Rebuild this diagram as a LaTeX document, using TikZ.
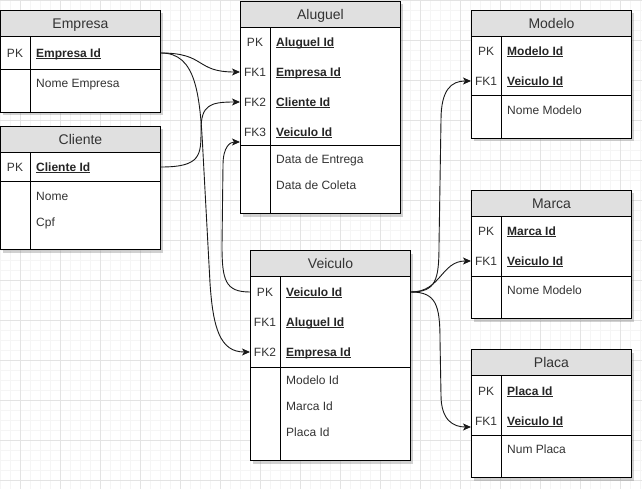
\documentclass[tikz,border=0pt]{standalone}
\usepackage{fontspec}
\setmainfont{Liberation Sans}
\usepackage{xcolor}
\usepackage{tikz}
\usetikzlibrary{arrows.meta, positioning, calc, shadows}

\definecolor{headgray}{HTML}{E0E0E0}
\definecolor{textgray}{HTML}{333333}
\definecolor{gridmajor}{HTML}{E3E3E3}
\definecolor{gridminor}{HTML}{F5F5F5}

\newcommand{\keyul}[1]{\setbox0\hbox{#1}\rlap{\rule[-1.6pt]{\wd0}{0.8pt}}\box0}

\begin{document}
\begin{tikzpicture}[
	  x=1pt, y=-1pt,
	  font=\fontsize{12}{14}\selectfont,
	  tablebox/.style={
	    draw,
	    fill=white,
	    line width=1pt,
	    anchor=north west,
	    minimum width=160pt,
	    inner sep=0pt,
	    drop shadow={shadow xshift=2pt, shadow yshift=-3pt, opacity=0.3, fill=black!60}
	  },
	  headbox/.style={draw, fill=headgray, line width=1pt, anchor=north west,
	    minimum width=160pt, minimum height=26pt, inner sep=0pt,
	    text height=10pt, text depth=0pt, text=textgray, font=\fontsize{14}{16}\selectfont},
	  keytag/.style={inner sep=0pt, text height=8.6pt, text depth=0pt, text=textgray},
	  keyfield/.style={anchor=west, inner sep=0pt, text height=8.6pt, text depth=0pt,
	    text=black!85, font=\fontsize{12}{14}\selectfont\bfseries},
	  attrfield/.style={anchor=west, inner sep=0pt, text height=8.6pt, text depth=0pt, text=textgray},
	  divider/.style={line width=1pt},
	  minorgrid/.style={gridminor, line width=0.6pt},
	  majorgrid/.style={gridmajor, line width=0.8pt},
	  arrow/.style={-{Stealth[length=8pt,width=7pt,inset=2pt]}, line width=0.9pt, black!90}
	]
	
	\useasboundingbox (0,0) rectangle (642,489);
	
	% background grid
	\foreach \gx in {0,10,...,640} \draw[minorgrid] (\gx,0) -- (\gx,489);
	\foreach \gy in {0,10,...,480} \draw[minorgrid] (0,\gy) -- (642,\gy);
	\foreach \gx in {20,60,...,620} \draw[majorgrid] (\gx,0) -- (\gx,489);
	\foreach \gy in {0,40,...,480} \draw[majorgrid] (0,\gy) -- (642,\gy);
	
	% Empresa
	\node[tablebox, minimum height=102pt] (emp) at (0,10) {};
	\node[headbox] (emp-h) at (emp.north west) {Empresa};
	\draw[divider] ([xshift=30pt]emp-h.south west) -- ([xshift=30pt]emp.south west);
	\draw[divider] ($(emp.north west)+(0,60)$) -- ++(160,0);
	\node[keytag] (emp-pk-tag) at ($(emp.north west)+(15,43)$) {PK};
	\node[keyfield] (emp-pk) at ($(emp.north west)+(36,43)$) {\keyul{Empresa Id}};
	\node[attrfield] (emp-nome) at ($(emp.north west)+(36,73)$) {Nome Empresa};
	
	% Cliente
	\node[tablebox, minimum height=123pt] (cli) at (0,126) {};
	\node[headbox] (cli-h) at (cli.north west) {Cliente};
	\draw[divider] ([xshift=30pt]cli-h.south west) -- ([xshift=30pt]cli.south west);
	\draw[divider] ($(cli.north west)+(0,56)$) -- ++(160,0);
	\node[keytag] (cli-pk-tag) at ($(cli.north west)+(15,41)$) {PK};
	\node[keyfield] (cli-pk) at ($(cli.north west)+(36,41)$) {\keyul{Cliente Id}};
	\node[attrfield] (cli-nome) at ($(cli.north west)+(36,70)$) {Nome};
	\node[attrfield] (cli-cpf) at ($(cli.north west)+(36,96)$) {Cpf};
	
	% Aluguel
	\node[tablebox, minimum height=212pt] (alu) at (240,1) {};
	\node[headbox] (alu-h) at (alu.north west) {Aluguel};
	\draw[divider] ([xshift=30pt]alu-h.south west) -- ([xshift=30pt]alu.south west);
	\draw[divider] ($(alu.north west)+(0,145)$) -- ++(160,0);
	\node[keytag] (alu-pk-tag) at ($(alu.north west)+(15,41)$) {PK};
	\node[keyfield] (alu-pk) at ($(alu.north west)+(36,41)$) {\keyul{Aluguel Id}};
	\node[keytag] (alu-fk1-tag) at ($(alu.north west)+(15,71)$) {FK1};
	\node[keyfield] (alu-fk1) at ($(alu.north west)+(36,71)$) {\keyul{Empresa Id}};
	\node[keytag] (alu-fk2-tag) at ($(alu.north west)+(15,101)$) {FK2};
	\node[keyfield] (alu-fk2) at ($(alu.north west)+(36,101)$) {\keyul{Cliente Id}};
	\node[keytag] (alu-fk3-tag) at ($(alu.north west)+(15,131)$) {FK3};
	\node[keyfield] (alu-fk3) at ($(alu.north west)+(36,131)$) {\keyul{Veiculo Id}};
	\node[attrfield] (alu-entrega) at ($(alu.north west)+(36,158)$) {Data de Entrega};
	\node[attrfield] (alu-coleta) at ($(alu.north west)+(36,184)$) {Data de Coleta};
	
	% Veiculo
	\node[tablebox, minimum height=210pt] (vei) at (250,250) {};
	\node[headbox] (vei-h) at (vei.north west) {Veiculo};
	\draw[divider] ([xshift=30pt]vei-h.south west) -- ([xshift=30pt]vei.south west);
	\draw[divider] ($(vei.north west)+(0,117)$) -- ++(160,0);
	\node[keytag] (vei-pk-tag) at ($(vei.north west)+(15,42)$) {PK};
	\node[keyfield] (vei-pk) at ($(vei.north west)+(36,42)$) {\keyul{Veiculo Id}};
	\node[keytag] (vei-fk1-tag) at ($(vei.north west)+(15,72)$) {FK1};
	\node[keyfield] (vei-fk1) at ($(vei.north west)+(36,72)$) {\keyul{Aluguel Id}};
	\node[keytag] (vei-fk2-tag) at ($(vei.north west)+(15,102)$) {FK2};
	\node[keyfield] (vei-fk2) at ($(vei.north west)+(36,102)$) {\keyul{Empresa Id}};
	\node[attrfield] (vei-modelo) at ($(vei.north west)+(36,130)$) {Modelo Id};
	\node[attrfield] (vei-marca) at ($(vei.north west)+(36,156)$) {Marca Id};
	\node[attrfield] (vei-placa) at ($(vei.north west)+(36,182)$) {Placa Id};
	
	% Modelo
	\node[tablebox, minimum height=128pt] (mod) at (471,10) {};
	\node[headbox] (mod-h) at (mod.north west) {Modelo};
	\draw[divider] ([xshift=30pt]mod-h.south west) -- ([xshift=30pt]mod.south west);
	\draw[divider] ($(mod.north west)+(0,86)$) -- ++(160,0);
	\node[keytag] (mod-pk-tag) at ($(mod.north west)+(15,41)$) {PK};
	\node[keyfield] (mod-pk) at ($(mod.north west)+(36,41)$) {\keyul{Modelo Id}};
	\node[keytag] (mod-fk1-tag) at ($(mod.north west)+(15,71)$) {FK1};
	\node[keyfield] (mod-fk1) at ($(mod.north west)+(36,71)$) {\keyul{Veiculo Id}};
	\node[attrfield] (mod-nome) at ($(mod.north west)+(36,100)$) {Nome Modelo};
	
	% Marca
	\node[tablebox, minimum height=128pt] (mar) at (471,190) {};
	\node[headbox] (mar-h) at (mar.north west) {Marca};
	\draw[divider] ([xshift=30pt]mar-h.south west) -- ([xshift=30pt]mar.south west);
	\draw[divider] ($(mar.north west)+(0,86)$) -- ++(160,0);
	\node[keytag] (mar-pk-tag) at ($(mar.north west)+(15,41)$) {PK};
	\node[keyfield] (mar-pk) at ($(mar.north west)+(36,41)$) {\keyul{Marca Id}};
	\node[keytag] (mar-fk1-tag) at ($(mar.north west)+(15,71)$) {FK1};
	\node[keyfield] (mar-fk1) at ($(mar.north west)+(36,71)$) {\keyul{Veiculo Id}};
	\node[attrfield] (mar-nome) at ($(mar.north west)+(36,100)$) {Nome Modelo};
	
	% Placa
	\node[tablebox, minimum height=128pt] (pla) at (471,349) {};
	\node[headbox] (pla-h) at (pla.north west) {Placa};
	\draw[divider] ([xshift=30pt]pla-h.south west) -- ([xshift=30pt]pla.south west);
	\draw[divider] ($(pla.north west)+(0,86)$) -- ++(160,0);
	\node[keytag] (pla-pk-tag) at ($(pla.north west)+(15,42)$) {PK};
	\node[keyfield] (pla-pk) at ($(pla.north west)+(36,42)$) {\keyul{Placa Id}};
	\node[keytag] (pla-fk1-tag) at ($(pla.north west)+(15,72)$) {FK1};
	\node[keyfield] (pla-fk1) at ($(pla.north west)+(36,72)$) {\keyul{Veiculo Id}};
	\node[attrfield] (pla-num) at ($(pla.north west)+(36,100)$) {Num Placa};
	
	% relations
	\draw[arrow] (emp.east |- emp-pk) .. controls +(45,0) and +(-45,0) .. (alu.west |- alu-fk1);
	\draw[arrow] (emp.east |- emp-pk) .. controls +(35,0) and +(-3,-60) .. (203,153)
	  -- (210,283) .. controls +(3,45) and +(-30,0) .. (vei.west |- vei-fk2);
	\draw[arrow] (cli.east |- cli-pk) .. controls +(40,0) and +(0,25) .. (201,130)
	  .. controls +(0,-25) and +(-30,0) .. (alu.west |- alu-fk2);
	\draw[arrow] (vei.west |- vei-pk) .. controls +(-25,0) and +(0,35) .. (222,245)
	  -- (223,165) .. controls +(0,-18) and +(-10,0) .. ([yshift=-10pt]alu.west |- alu-fk3);
	\draw[arrow] (vei.east |- vei-pk) .. controls +(25,0) and +(0,35) .. (439,245)
	  -- (441,120) .. controls +(0,-30) and +(-20,0) .. (mod.west |- mod-fk1);
	\draw[arrow] (vei.east |- vei-pk) .. controls +(30,0) and +(-30,0) .. (mar.west |- mar-fk1);
	\draw[arrow] (vei.east |- vei-pk) .. controls +(25,0) and +(0,-35) .. (440,340)
	  -- (441,395) .. controls +(0,25) and +(-18,0) .. ([yshift=-6pt]pla.west |- pla-fk1);
	
\end{tikzpicture}
\end{document}
